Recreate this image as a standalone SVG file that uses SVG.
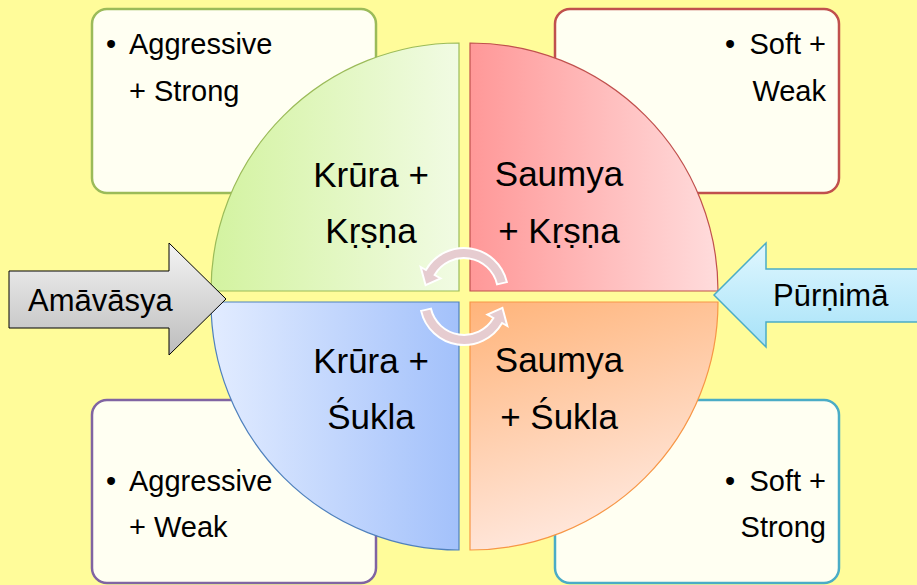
<svg xmlns="http://www.w3.org/2000/svg" width="917" height="585" viewBox="0 0 917 585">
<defs>
<style>
.box{fill:#fffff2;stroke-width:2.5}
.t{font-family:"Liberation Sans",Arial,sans-serif;fill:#000}
.bt{font-size:29px}
.qt{font-size:35px;text-anchor:middle}
.at{font-size:31px}
.q{stroke-width:1.2}
.ca{fill:#e6ccd0;stroke:#ffffff;stroke-width:2;stroke-linejoin:miter}
</style>
<linearGradient id="gTL" x1="0" y1="0" x2="1" y2="0"><stop offset="0" stop-color="#d3f3a0"/><stop offset="1" stop-color="#f1fbe3"/></linearGradient>
<linearGradient id="gTR" x1="0" y1="0" x2="1" y2="0"><stop offset="0" stop-color="#ff9898"/><stop offset="1" stop-color="#ffdcdc"/></linearGradient>
<linearGradient id="gBL" x1="0" y1="0" x2="1" y2="0"><stop offset="0" stop-color="#e2ecff"/><stop offset="1" stop-color="#a3c1fb"/></linearGradient>
<linearGradient id="gBR" x1="0" y1="0" x2="0.3" y2="1"><stop offset="0" stop-color="#ffb47a"/><stop offset="1" stop-color="#ffe8de"/></linearGradient>
<linearGradient id="gL" x1="0" y1="0" x2="0" y2="1"><stop offset="0" stop-color="#f4f4f4"/><stop offset="1" stop-color="#bcbcbc"/></linearGradient>
<linearGradient id="gR" x1="0" y1="0" x2="0" y2="1"><stop offset="0" stop-color="#e0f7ff"/><stop offset="1" stop-color="#a6e2f8"/></linearGradient>
<path id="carc" d="M506.9,282.1 A44,44 0 0 0 425.9,270 L420.7,267 L425.6,285.2 L440.6,278.5 L434.6,275 A34,34 0 0 1 497.1,284.4 Z"/>
</defs>
<rect x="0" y="0" width="917" height="585" fill="#fffc9a"/>

<g id="box-tl">
<rect class="box" x="92" y="9" width="284" height="184" rx="15" stroke="#9bbb59"/>
<text class="t bt" x="106" y="54">•</text>
<text class="t bt" x="129" y="54">Aggressive</text>
<text class="t bt" x="129" y="101">+ Strong</text>
</g>
<g id="box-tr">
<rect class="box" x="555" y="9" width="284" height="184" rx="15" stroke="#c0504d"/>
<text class="t bt" x="725" y="54">•</text>
<text class="t bt" x="826" y="54" text-anchor="end">Soft +</text>
<text class="t bt" x="826" y="101" text-anchor="end">Weak</text>
</g>
<g id="box-bl">
<rect class="box" x="92" y="400" width="284" height="183" rx="15" stroke="#8064a2"/>
<text class="t bt" x="106" y="491">•</text>
<text class="t bt" x="129" y="491">Aggressive</text>
<text class="t bt" x="129" y="537">+ Weak</text>
</g>
<g id="box-br">
<rect class="box" x="555" y="400" width="284" height="183" rx="15" stroke="#4bacc6"/>
<text class="t bt" x="725" y="491">•</text>
<text class="t bt" x="826" y="491" text-anchor="end">Soft +</text>
<text class="t bt" x="826" y="537" text-anchor="end">Strong</text>
</g>

<g id="q-tl">
<path class="q" d="M459,291 L211,291 A248,248 0 0 1 459,43 Z" fill="url(#gTL)" stroke="#9bbb59"/>
<text class="t qt" x="371" y="187">Krūra +</text>
<text class="t qt" x="371" y="243">Kṛṣṇa</text>
</g>
<g id="q-tr">
<path class="q" d="M470,291 L470,43 A248,248 0 0 1 718,291 Z" fill="url(#gTR)" stroke="#c0504d"/>
<text class="t qt" x="559" y="186">Saumya</text>
<text class="t qt" x="559" y="243">+ Kṛṣṇa</text>
</g>
<g id="q-bl">
<path class="q" d="M459,302 L459,550 A248,248 0 0 1 211,302 Z" fill="url(#gBL)" stroke="#4f81bd"/>
<text class="t qt" x="371" y="373">Krūra +</text>
<text class="t qt" x="371" y="429">Śukla</text>
</g>
<g id="q-br">
<path class="q" d="M470,302 L718,302 A248,248 0 0 1 470,550 Z" fill="url(#gBR)" stroke="#f79646"/>
<text class="t qt" x="559" y="372">Saumya</text>
<text class="t qt" x="559" y="429">+ Śukla</text>
</g>

<g id="connectors">
<use href="#carc" class="ca"/>
<use href="#carc" class="ca" transform="rotate(180 464 296.5)"/>
</g>

<g id="arrow-amavasya">
<path d="M9,271 L169,271 L169,243 L226,299 L169,355 L169,328 L9,328 Z" fill="url(#gL)" stroke="#000" stroke-width="1"/>
<text class="t at" x="28" y="311">Amāvāsya</text>
</g>
<g id="arrow-purnima">
<path d="M714,295 L766,243 L766,269 L930,269 L930,322 L766,322 L766,347 Z" fill="url(#gR)" stroke="#4bacc6" stroke-width="1.5"/>
<text class="t at" x="773" y="306">Pūrṇimā</text>
</g>
</svg>
